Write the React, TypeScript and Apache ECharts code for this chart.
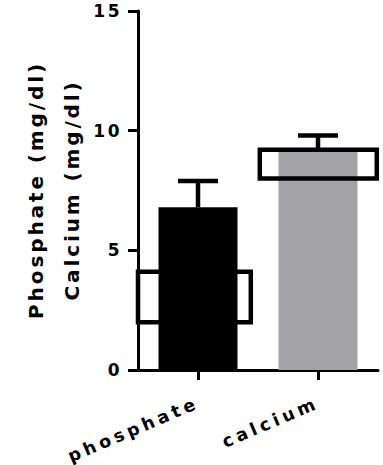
import React, { useEffect, useRef } from 'react';
import * as echarts from 'echarts';

// Serum values per analyte
const categories = ['phosphate', 'calcium'];
const meanValues = [6.8, 9.2];
const upperErrorValues = [7.9, 9.8];
// Normal reference range per analyte
const normalLow = [2.0, 8.0];
const normalHigh = [4.1, 9.2];
const barColors = ['#000000', '#a3a2a7'];

const FONT = "'DejaVu Sans', 'Liberation Sans', Arial, sans-serif";
// Horizontal extent of each reference-range box, in band widths from the category centre
const BOX_SPAN = [
  [-0.5, 0.44],
  [-0.485, 0.49],
];

export default function App() {
  const ref = useRef<HTMLDivElement>(null);

  useEffect(() => {
    const chart = echarts.init(ref.current!, null, { renderer: 'svg' });
    chart.setOption({
      animation: false,
      grid: { left: 138, right: 5, top: 11, bottom: 95, outerBoundsMode: 'none', containLabel: false },
      xAxis: {
        type: 'category',
        data: categories,
        axisLine: { show: true, lineStyle: { color: '#000', width: 3 } },
        axisTick: { show: true, alignWithLabel: true, length: 10, lineStyle: { color: '#000', width: 3 } },
        axisLabel: {
          rotate: 23,
          margin: 32,
          color: '#000',
          fontFamily: FONT,
          fontWeight: 'bold',
          fontSize: 17.5,
        },
        splitLine: { show: false },
      },
      yAxis: {
        type: 'value',
        min: 0,
        max: 15,
        interval: 5,
        axisLine: { show: true, lineStyle: { color: '#000', width: 3 } },
        axisTick: { show: true, length: 10, lineStyle: { color: '#000', width: 3 } },
        axisLabel: {
          margin: 16,
          color: '#000',
          fontFamily: FONT,
          fontWeight: 'bold',
          fontSize: 17,
        },
        splitLine: { show: false },
      },
      graphic: [
        {
          type: 'text',
          x: 36,
          y: 190,
          rotation: Math.PI / 2,
          style: {
            text: 'Phosphate (mg/dl)',
            font: `bold 20px ${FONT}`,
            fill: '#000',
            textAlign: 'center',
            textVerticalAlign: 'middle',
            align: 'center',
            verticalAlign: 'middle',
          },
        },
        {
          type: 'text',
          x: 72,
          y: 190,
          rotation: Math.PI / 2,
          style: {
            text: 'Calcium (mg/dl)',
            font: `bold 20px ${FONT}`,
            fill: '#000',
            textAlign: 'center',
            textVerticalAlign: 'middle',
            align: 'center',
            verticalAlign: 'middle',
          },
        },
      ],
      series: [
        {
          type: 'bar',
          barWidth: 79,
          z: 2,
          data: meanValues.map((v, i) => ({ value: v, itemStyle: { color: barColors[i] } })),
        },
        {
          // error bars (mean to upper SD)
          type: 'custom',
          z: 3,
          encode: { x: 0, y: [1, 2] },
          data: categories.map((_, i) => [i, meanValues[i], upperErrorValues[i]]),
          renderItem: (params: any, api: any) => {
            const idx = api.value(0);
            const base = api.coord([idx, api.value(1)]);
            const top = api.coord([idx, api.value(2)]);
            const style = { stroke: '#000', lineWidth: 4.5, fill: 'none' };
            return {
              type: 'group',
              children: [
                { type: 'line', shape: { x1: base[0], y1: base[1], x2: top[0], y2: top[1] }, style },
                { type: 'line', shape: { x1: top[0] - 20, y1: top[1], x2: top[0] + 20, y2: top[1] }, style },
              ],
            };
          },
        },
        {
          // reference range boxes
          type: 'custom',
          z: 4,
          encode: { x: 0, y: [1, 2] },
          data: categories.map((_, i) => [i, normalLow[i], normalHigh[i]]),
          renderItem: (params: any, api: any) => {
            const idx = api.value(0);
            const lo = api.coord([idx, api.value(1)]);
            const hi = api.coord([idx, api.value(2)]);
            const band = api.size([1, 0])[0];
            const span = BOX_SPAN[idx];
            return {
              type: 'rect',
              shape: {
                x: lo[0] + span[0] * band,
                y: hi[1],
                width: (span[1] - span[0]) * band,
                height: lo[1] - hi[1],
              },
              style: { fill: 'none', stroke: '#000', lineWidth: 4.5 },
            };
          },
        },
      ],
    });
    return () => chart.dispose();
  }, []);

  return (
    <>
      <style>{`
        .chart-host text[style*="17px"] { letter-spacing: 2.5px; }
        .chart-host text[style*="17.5px"] { letter-spacing: 4px; }
        .chart-host text[style*="20px"] { letter-spacing: 2.9px; }
      `}</style>
      <div
        ref={ref}
        className="chart-host"
        style={{ position: 'fixed', left: 0, top: 0, width: 383, height: 465, background: '#fff' }}
      />
    </>
  );
}
